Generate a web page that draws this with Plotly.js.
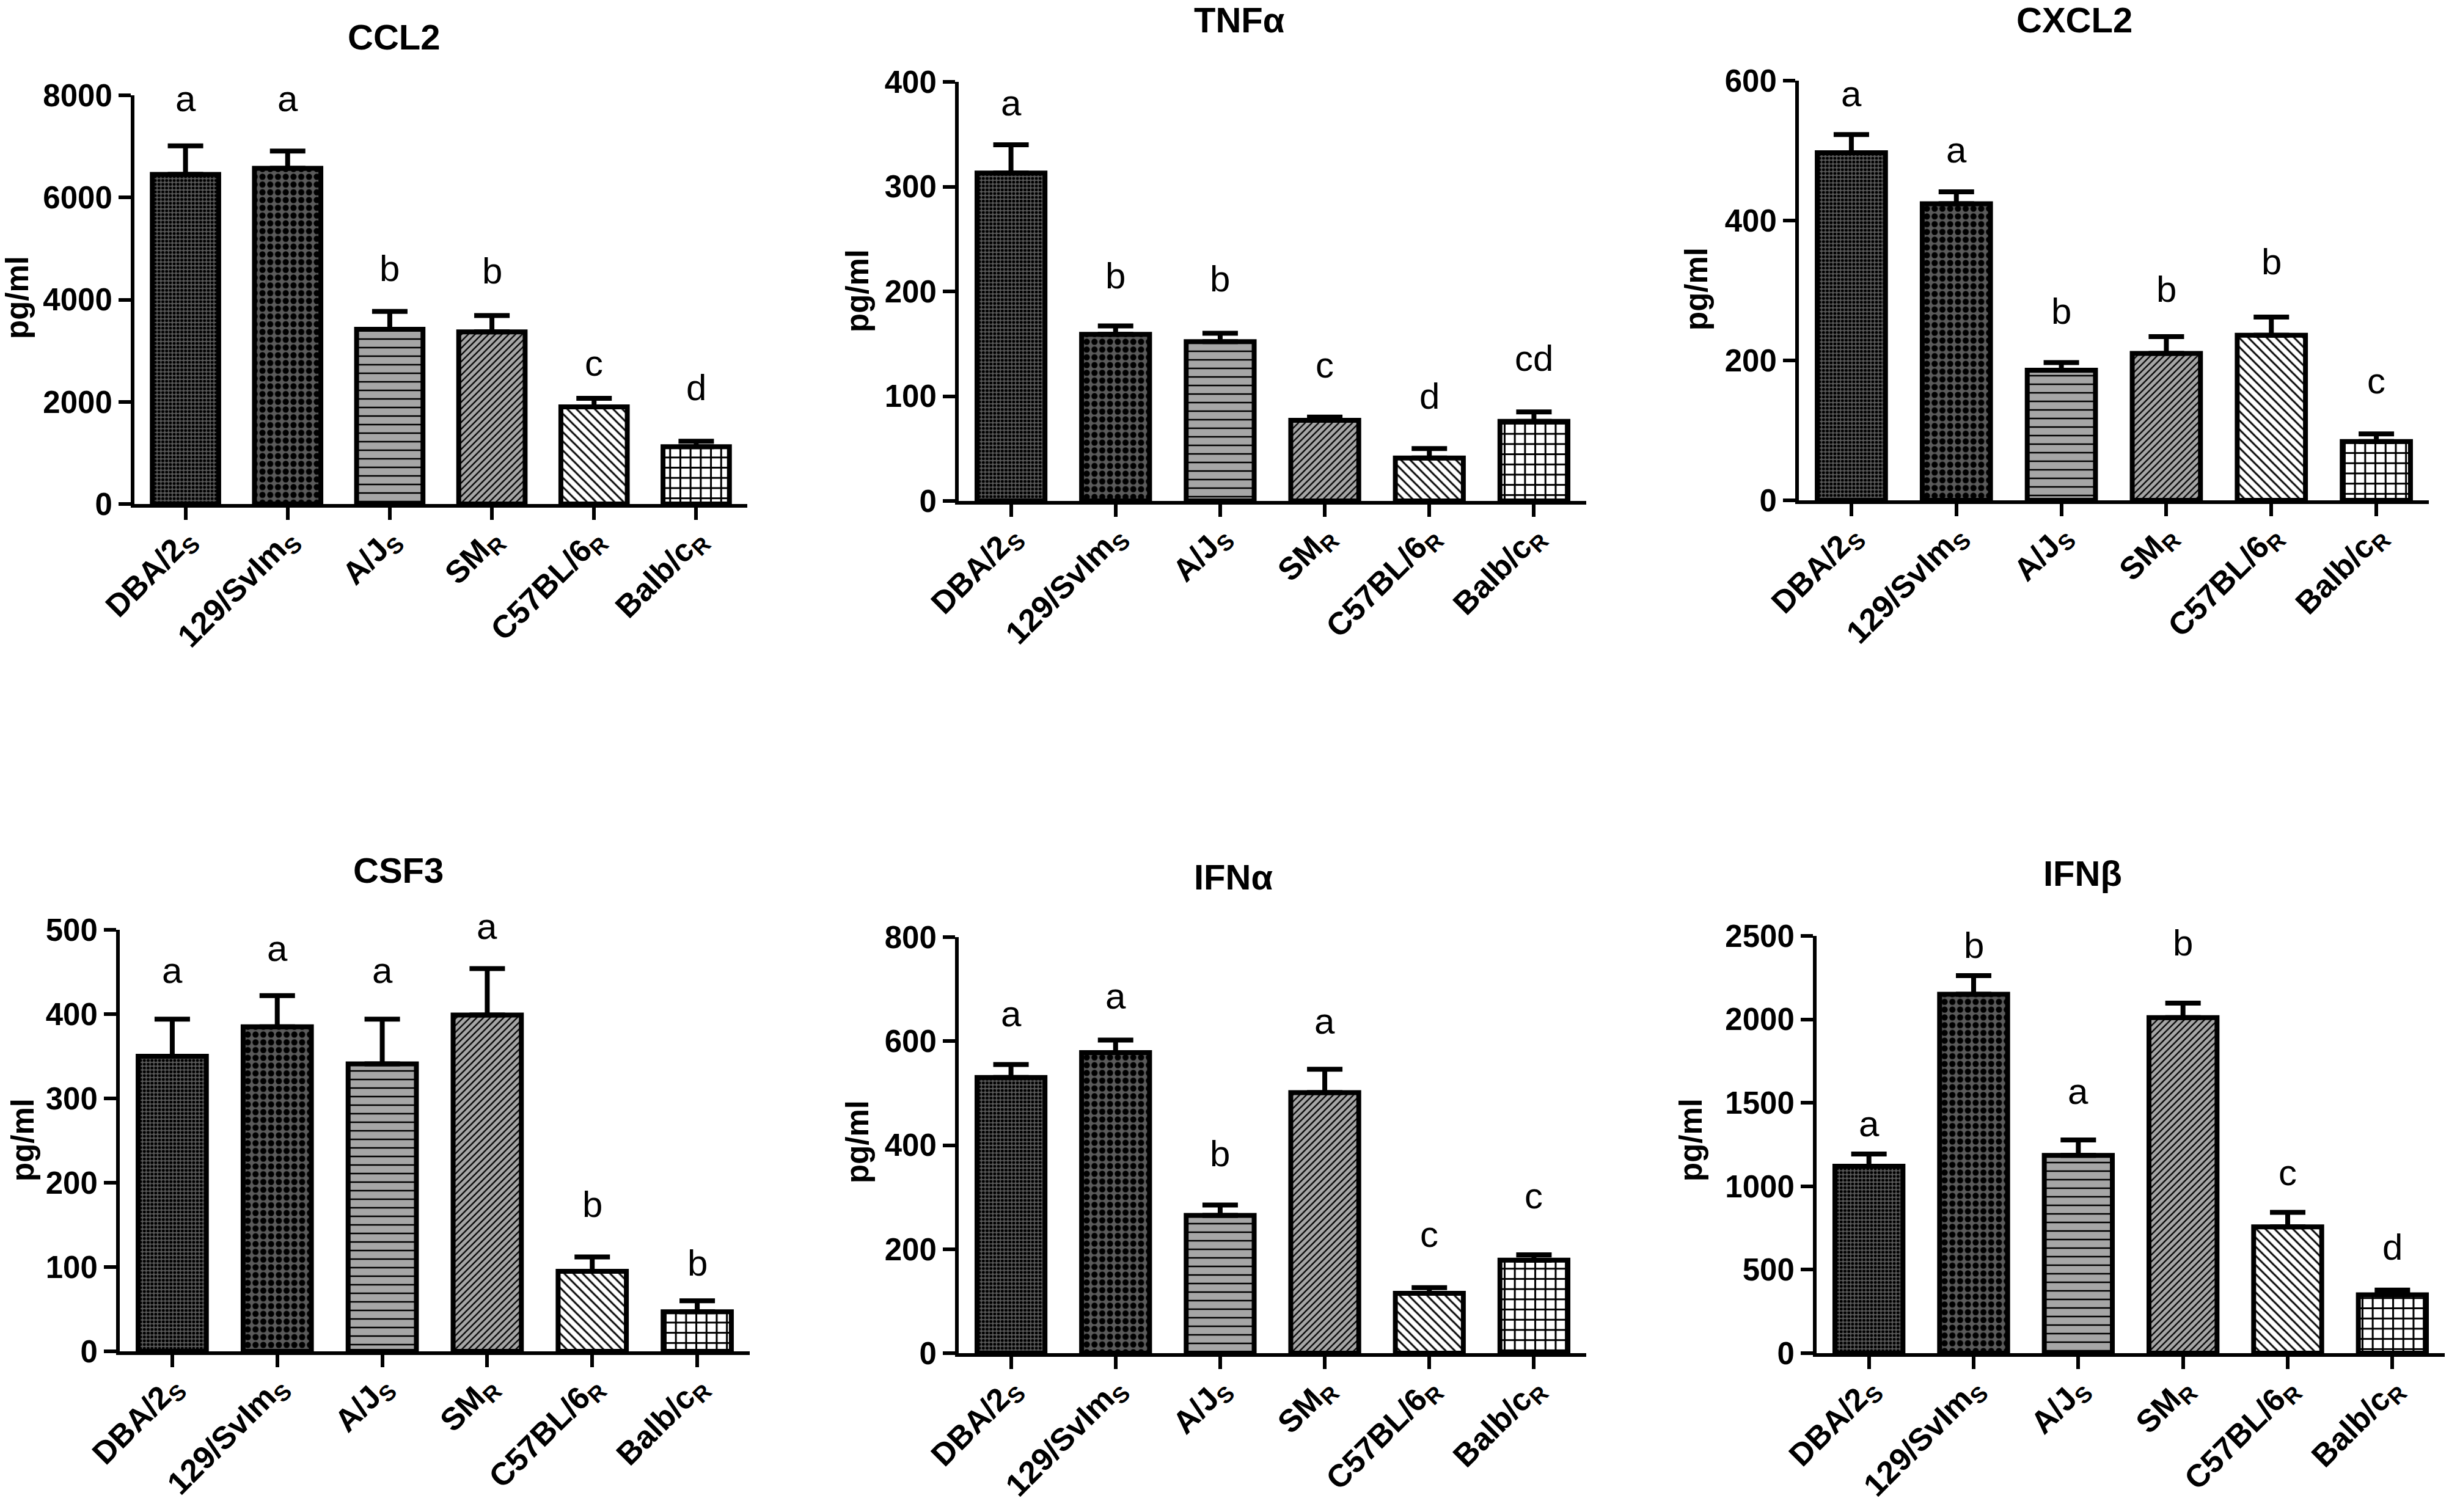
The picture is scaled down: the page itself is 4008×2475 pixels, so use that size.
<!DOCTYPE html>
<html>
<head>
<meta charset="utf-8">
<script src="https://cdn.plot.ly/plotly-3.0.1.min.js"></script>
<style>
html, body { margin: 0; padding: 0; background: #ffffff; }
#chart { width: 4008px; height: 2475px; }
</style>
</head>
<body>
<div id="chart"></div>
<script>
// ---------------- data ----------------
const categories = ['DBA/2', '129/SvIm', 'A/J', 'SM', 'C57BL/6', 'Balb/c'];
const tickLabels = ['DBA/2<sub>S</sub>', '129/SvIm<sub>S</sub>', 'A/J<sub>S</sub>', 'SM<sub>R</sub>', 'C57BL/6<sub>R</sub>', 'Balb/c<sub>R</sub>'];

const panelTitles = ['CCL2', 'TNFα', 'CXCL2', 'CSF3', 'IFNα', 'IFNβ'];
const yAxisLabel = 'pg/ml';

const ccl2Mean = [6450, 6570, 3420, 3370, 1900, 1120];
const ccl2Sem = [560, 340, 350, 320, 170, 110];
const ccl2Letters = ['a', 'a', 'b', 'b', 'c', 'd'];
const ccl2LetterY = [7940, 7940, 4605, 4560, 2760, 2280];

const tnfMean = [313, 159, 152, 77, 41, 76];
const tnfSem = [27, 8, 8, 3, 9, 9];
const tnfLetters = ['a', 'b', 'b', 'c', 'd', 'cd'];
const tnfLetterY = [380, 215, 212, 130, 100, 136];

const cxcl2Mean = [497, 424, 186, 210, 236, 84];
const cxcl2Sem = [26, 17, 11, 24, 26, 11];
const cxcl2Letters = ['a', 'a', 'b', 'b', 'b', 'c'];
const cxcl2LetterY = [581, 501, 270, 302, 341, 171];

const csf3Mean = [350, 385, 341, 399, 95, 47];
const csf3Sem = [44, 37, 53, 55, 17, 13];
const csf3Letters = ['a', 'a', 'a', 'a', 'b', 'b'];
const csf3LetterY = [452, 478, 452, 504, 174, 105];

const ifnaMean = [530, 578, 265, 501, 115, 179];
const ifnaSem = [25, 24, 20, 45, 11, 10];
const ifnaLetters = ['a', 'a', 'b', 'a', 'c', 'c'];
const ifnaLetterY = [652, 687, 384, 639, 228, 302];

const ifnbMean = [1120, 2150, 1185, 2010, 757, 350];
const ifnbSem = [73, 112, 92, 87, 87, 28];
const ifnbLetters = ['a', 'b', 'a', 'b', 'c', 'd'];
const ifnbLetterY = [1376, 2445, 1568, 2458, 1080, 636];

const yMax = [8000, 400, 600, 500, 800, 2500];
const yStep = [2000, 100, 200, 100, 200, 500];

// ---------------- layout & styles ----------------
const W = 4008, H = 2475;
const FONT = 'Liberation Sans, Arial, Helvetica, sans-serif';

const series = [
  { mean: ccl2Mean, sem: ccl2Sem, letters: ccl2Letters, letterY: ccl2LetterY },
  { mean: tnfMean, sem: tnfSem, letters: tnfLetters, letterY: tnfLetterY },
  { mean: cxcl2Mean, sem: cxcl2Sem, letters: cxcl2Letters, letterY: cxcl2LetterY },
  { mean: csf3Mean, sem: csf3Sem, letters: csf3Letters, letterY: csf3LetterY },
  { mean: ifnaMean, sem: ifnaSem, letters: ifnaLetters, letterY: ifnaLetterY },
  { mean: ifnbMean, sem: ifnbSem, letters: ifnbLetters, letterY: ifnbLetterY }
];

// pixel geometry of each panel (plot area x0,x1 ; y top, y bottom), title centre, y-label centre
const panelGeom = [
  { x: [220, 1223], y: [156, 825], title: [644, 60], ylab: [29, 487] },
  { x: [1569, 2596], y: [134, 820], title: [2028, 33], ylab: [1403, 476] },
  { x: [2944, 3975], y: [132, 819], title: [3395, 33], ylab: [2776, 473] },
  { x: [196, 1227], y: [1522, 2212], title: [652, 1424], ylab: [37, 1866] },
  { x: [1569, 2596], y: [1534, 2215], title: [2019, 1435], ylab: [1403, 1869] },
  { x: [2973, 4001], y: [1532, 2215], title: [3408, 1429], ylab: [2767, 1866] }
];

// fill style per strain
const strainPatterns = [
  { shape: '.', size: 6.2, solidity: 0.5, fgcolor: '#000000', bgcolor: '#5a5a5a' },
  { shape: '.', size: 12.7, solidity: 0.5, fgcolor: '#000000', bgcolor: '#5a5a5a' },
  { shape: '-', size: 14, solidity: 0.18, fgcolor: '#000000', bgcolor: '#a6a6a6' },
  { shape: '/', size: 7.8, solidity: 0.3, fgcolor: '#000000', bgcolor: '#a6a6a6' },
  { shape: '\\', size: 10.6, solidity: 0.28, fgcolor: '#000000', bgcolor: '#ffffff' },
  { shape: '+', size: 16.7, solidity: 0.33, fgcolor: '#000000', bgcolor: '#ffffff' }
];

const traces = [];
const annotations = [];
const layout = {
  width: W, height: H,
  margin: { l: 0, r: 0, t: 0, b: 0, pad: 0 },
  paper_bgcolor: '#ffffff',
  plot_bgcolor: 'rgba(0,0,0,0)',
  showlegend: false,
  font: { family: FONT, color: '#000000' }
};

series.forEach((s, i) => {
  const n = i + 1;
  const xa = 'x' + (n === 1 ? '' : n);
  const ya = 'y' + (n === 1 ? '' : n);
  const g = panelGeom[i];

  // one trace per strain so each bar keeps its own fill pattern
  categories.forEach((cat, k) => {
    traces.push({
      type: 'bar',
      x: [cat],
      y: [s.mean[k]],
      xaxis: xa, yaxis: ya,
      width: 0.65,
      cliponaxis: false,
      marker: {
        color: strainPatterns[k].bgcolor,
        line: { color: '#000000', width: 8 },
        pattern: Object.assign({ fillmode: 'replace' }, strainPatterns[k])
      },
      error_y: {
        type: 'data', symmetric: false,
        array: [s.sem[k]], arrayminus: [0],
        color: '#000000', thickness: 8, width: 29
      },
      hoverinfo: 'skip'
    });
  });

  const axBase = {
    showline: true, linecolor: '#000000', linewidth: 6,
    ticks: 'outside', ticklen: 20, tickwidth: 6, tickcolor: '#000000',
    showgrid: false, zeroline: false, automargin: false, fixedrange: true
  };

  layout['xaxis' + (n === 1 ? '' : n)] = Object.assign({}, axBase, {
    domain: [g.x[0] / W, g.x[1] / W],
    anchor: ya,
    type: 'category',
    range: [-0.5, 5.5],
    tickvals: categories,
    ticktext: tickLabels,
    tickangle: -45,
    ticklabelstandoff: -20,
    tickfont: { family: FONT, size: 52, weight: 'bold', color: '#000000' }
  });
  layout['yaxis' + (n === 1 ? '' : n)] = Object.assign({}, axBase, {
    domain: [1 - g.y[1] / H, 1 - g.y[0] / H],
    anchor: xa,
    range: [0, yMax[i]],
    tick0: 0, dtick: yStep[i],
    tickfont: { family: FONT, size: 51, weight: 'bold', color: '#000000' }
  });

  // significance letters (axis-domain reference so letters above the top tick stay visible)
  s.letters.forEach((txt, k) => {
    annotations.push({
      xref: xa, yref: ya + ' domain', x: categories[k], y: s.letterY[k] / yMax[i],
      text: txt, showarrow: false, xanchor: 'center', yanchor: 'middle',
      font: { family: FONT, size: 60, color: '#000000' }
    });
  });

  // panel title
  annotations.push({
    xref: 'paper', yref: 'paper', x: g.title[0] / W, y: 1 - g.title[1] / H,
    text: '<b>' + panelTitles[i] + '</b>', showarrow: false,
    xanchor: 'center', yanchor: 'middle',
    font: { family: FONT, size: 58, color: '#000000' }
  });

  // y-axis label
  annotations.push({
    xref: 'paper', yref: 'paper', x: g.ylab[0] / W, y: 1 - g.ylab[1] / H,
    text: '<b>' + yAxisLabel + '</b>', showarrow: false, textangle: -90,
    xanchor: 'center', yanchor: 'middle',
    font: { family: FONT, size: 51, color: '#000000' }
  });
});

layout.annotations = annotations;

Plotly.newPlot('chart', traces, layout, { staticPlot: true, displayModeBar: false });
</script>
</body>
</html>
